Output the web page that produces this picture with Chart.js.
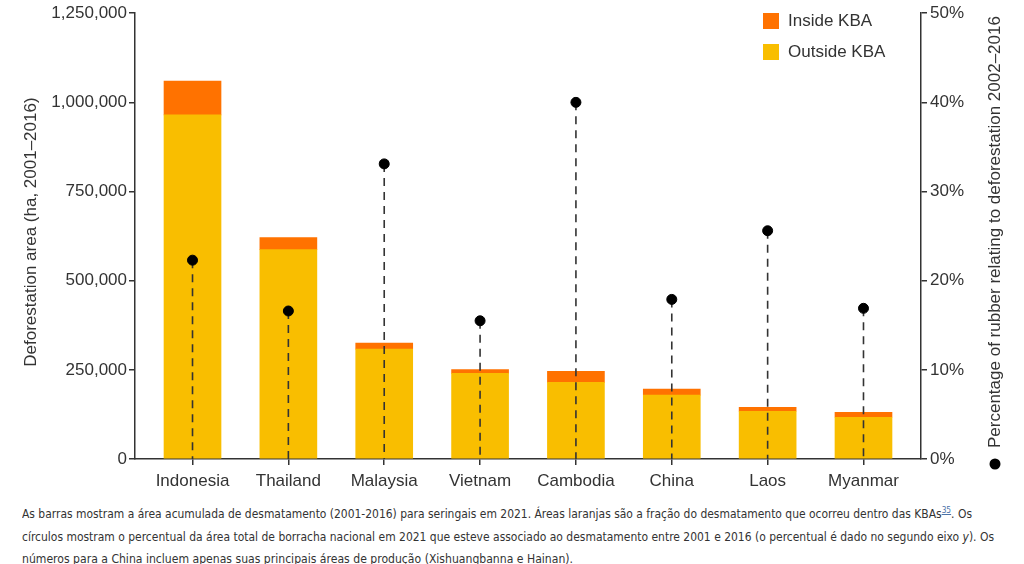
<!DOCTYPE html>
<html>
<head>
<meta charset="utf-8">
<script src="https://cdn.jsdelivr.net/npm/chart.js@4.4.1/dist/chart.umd.min.js"></script>
<style>
  html, body { margin: 0; padding: 0; background: #fff; }
  body { width: 1024px; height: 564px; position: relative; overflow: hidden; font-family: "Liberation Sans", Arial, sans-serif; }
  #wrap { position: absolute; left: 0; top: 0; width: 1024px; height: 495px; }
  .leg { position: absolute; left: 763px; font-size: 17px; color: #333; line-height: 20px; white-space: nowrap; }
  .leg i { position: absolute; left: 0; top: 2px; width: 16px; height: 16px; }
  .leg span { position: absolute; left: 25px; top: 0; }
  .cap { position: absolute; left: 22px; height: 20px; line-height: 20px; font-family: "Liberation Sans Narrow", "DejaVu Sans Condensed", "Open Sans", sans-serif; font-size: 13px; color: #333; white-space: nowrap; transform-origin: 0 50%; }
  .cap sup { font-size: 9px; line-height: 0; }
  .cap a { color: #4a72a8; text-decoration: underline; }
</style>
</head>
<body>
<div id="wrap"><canvas id="c"></canvas></div>
<div class="leg" style="top:11px"><i style="background:#FF7200"></i><span>Inside KBA</span></div>
<div class="leg" style="top:42px"><i style="background:#F9BE00"></i><span>Outside KBA</span></div>
<div class="cap" id="l1" style="top:504px">As barras mostram a área acumulada de desmatamento (2001-2016) para seringais em 2021. Áreas laranjas são a fração do desmatamento que ocorreu dentro das KBAs<sup><a>35</a></sup>. Os</div>
<div class="cap" id="l2" style="top:527px">círculos mostram o percentual da área total de borracha nacional em 2021 que esteve associado ao desmatamento entre 2001 e 2016 (o percentual é dado no segundo eixo <i>y</i>). Os</div>
<div class="cap" id="l3" style="top:549px">números para a China incluem apenas suas principais áreas de produção (Xishuangbanna e Hainan).</div>
<script>
const categories = ["Indonesia", "Thailand", "Malaysia", "Vietnam", "Cambodia", "China", "Laos", "Myanmar"];
const outsideKBA = [965000, 587000, 308000, 240000, 215000, 179000, 134000, 117000];
const insideKBA  = [95000, 34000, 17000, 11000, 31000, 17000, 11000, 14000];
const rubberPct  = [22.3, 16.6, 33.1, 15.5, 40.0, 17.9, 25.6, 16.9];
const leftTicks  = [0, 250000, 500000, 750000, 1000000, 1250000];
const rightTicks = [0, 10, 20, 30, 40, 50];
const leftTitle  = "Deforestation area (ha, 2001\u20132016)";
const rightTitle = "Percentage of rubber relating to deforestation 2002\u20132016";

const INK = '#333';
const FONT = "'Liberation Sans', Arial, sans-serif";

const dashPlugin = {
  id: 'dashes',
  beforeDatasetDraw(chart, args) {
    if (args.index !== 2) return;
    const meta = chart.getDatasetMeta(2);
    const y0 = chart.scales.y1.getPixelForValue(0);
    const ctx = chart.ctx;
    ctx.save();
    ctx.strokeStyle = '#333';
    ctx.lineWidth = 1.6;
    ctx.setLineDash([8, 6]);
    meta.data.forEach(p => {
      ctx.beginPath();
      ctx.moveTo(p.x, p.y);
      ctx.lineTo(p.x, y0);
      ctx.stroke();
    });
    ctx.restore();
  }
};

const titlePlugin = {
  id: 'titles',
  afterDraw(chart) {
    const ctx = chart.ctx;
    const a = chart.chartArea;
    ctx.save();
    ctx.fillStyle = INK;
    ctx.font = "17px " + FONT;
    ctx.textBaseline = 'middle';
    ctx.save();
    ctx.translate(31, (a.top + a.bottom) / 2 - 4);
    ctx.rotate(-Math.PI / 2);
    ctx.textAlign = 'center';
    ctx.fillText(leftTitle, 0, 0);
    ctx.restore();
    ctx.save();
    ctx.translate(995, 448);
    ctx.rotate(-Math.PI / 2);
    ctx.textAlign = 'left';
    ctx.fillText(rightTitle, 0, 0);
    ctx.restore();
    ctx.beginPath();
    ctx.fillStyle = '#000';
    ctx.arc(995, 464, 5.5, 0, Math.PI * 2);
    ctx.fill();
    ctx.restore();
  }
};

new Chart(document.getElementById('c'), {
  data: {
    datasets: [
      { type: 'bar', label: 'Outside KBA', data: outsideKBA.map((v, i) => ({x: i, y: v})), backgroundColor: '#F9BE00', yAxisID: 'y', order: 1, barThickness: 57 },
      { type: 'bar', label: 'Inside KBA', data: insideKBA.map((v, i) => ({x: i, y: v})), backgroundColor: '#FF7200', yAxisID: 'y', order: 1, barThickness: 57 },
      { type: 'scatter', label: 'Rubber %', data: rubberPct.map((v, i) => ({x: i, y: v})), backgroundColor: '#000', borderColor: '#000', pointRadius: 5, pointHoverRadius: 5, yAxisID: 'y1', order: 0 }
    ]
  },
  options: {
    responsive: true,
    maintainAspectRatio: false,
    animation: false,
    events: [],
    layout: { padding: { top: 12, left: 0, right: 0, bottom: 0 } },
    plugins: { legend: { display: false }, tooltip: { enabled: false } },
    scales: {
      x: {
        type: 'linear', min: -0.6, max: 7.6, stacked: true, offset: false,
        afterBuildTicks: s => { s.ticks = categories.map((_, i) => ({ value: i })); },
        afterFit: s => { s.height = 36; },
        ticks: { callback: v => categories[v], color: INK, font: { size: 17, family: FONT }, padding: 6, maxRotation: 0, autoSkip: false },
        grid: { offset: false, drawOnChartArea: false, drawTicks: true, tickLength: 6, color: INK, lineWidth: 1.5 },
        border: { display: true, color: INK, width: 1.5 }
      },
      y: {
        position: 'left', min: 0, max: 1250000, stacked: true,
        afterBuildTicks: s => { s.ticks = leftTicks.map(v => ({ value: v })); },
        afterFit: s => { s.width = 135; },
        ticks: { callback: v => v.toLocaleString('en-US'), color: INK, font: { size: 17, family: FONT }, padding: 2 },
        grid: { drawOnChartArea: false, drawTicks: true, tickLength: 6, color: INK, lineWidth: 1.5 },
        border: { display: true, color: INK, width: 1.5 }
      },
      y1: {
        position: 'right', min: 0, max: 50,
        afterBuildTicks: s => { s.ticks = rightTicks.map(v => ({ value: v })); },
        afterFit: s => { s.width = 103; },
        ticks: { callback: v => v + '%', color: INK, font: { size: 17, family: FONT }, padding: 3 },
        grid: { drawOnChartArea: false, drawTicks: true, tickLength: 6, color: INK, lineWidth: 1.5 },
        border: { display: true, color: INK, width: 1.5 }
      }
    }
  },
  plugins: [dashPlugin, titlePlugin]
});

const targets = { l1: 950, l2: 972, l3: 551 };
Object.keys(targets).forEach(id => {
  const el = document.getElementById(id);
  el.style.display = 'inline-block';
  const w = el.getBoundingClientRect().width;
  if (w > 0) el.style.transform = 'scaleX(' + (targets[id] / w) + ')';
});
</script>
</body>
</html>
